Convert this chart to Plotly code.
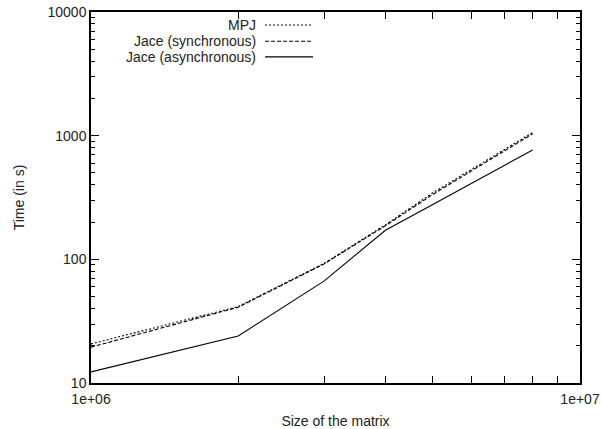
import plotly.graph_objects as go

sizes = [1e6, 2e6, 3e6, 4e6, 5e6, 8e6]
mpj = [20.7, 41.5, 93, 190, 345, 1060]
jace_sync = [19.5, 41, 92, 187, 335, 1035]
jace_async = [12.3, 24, 67, 172, 278, 765]

series_names = ["MPJ", "Jace (synchronous)", "Jace (asynchronous)"]
series_dash = ["2px,2px", "4px,2px", "solid"]

x_ticks = [1e6, 1e7]
x_tick_text = ["1e+06", "1e+07"]
y_ticks = [10, 100, 1000, 10000]
y_tick_text = ["10", "100", "1000", "10000"]

FONT = "Liberation Sans, Arial, Helvetica, sans-serif"
TXT = "#222"
FS = 14

fig = go.Figure()
for name, ys, dash in zip(series_names, [mpj, jace_sync, jace_async], series_dash):
    fig.add_trace(go.Scatter(x=sizes, y=ys, mode="lines", name=name,
                             line=dict(color="black", width=1.1, dash=dash),
                             showlegend=False))

# Manual gnuplot-style legend (text right-aligned, sample to the right)
legend_y = [0.965, 0.921, 0.879]
for name, dash, ly in zip(series_names, series_dash, legend_y):
    fig.add_annotation(x=0.3415, y=ly, xref="paper", yref="paper", text=name,
                       showarrow=False, xanchor="right", yanchor="middle",
                       font=dict(family=FONT, size=FS, color=TXT))
    fig.add_shape(type="line", xref="paper", yref="paper",
                  x0=0.356, x1=0.454, y0=ly, y1=ly,
                  line=dict(color="black", width=1.1, dash=dash))

axis_common = dict(
    type="log", showgrid=False, zeroline=False, showline=True,
    linecolor="black", linewidth=1.5, automargin=False,
    ticks="inside", tickcolor="black", tickwidth=1,
    tickfont=dict(family=FONT, size=FS, color=TXT),
)
x_minor = dict(ticks="inside", ticklen=7, tickcolor="black", tickwidth=1,
               dtick="D1", showgrid=False)
y_minor = dict(ticks="inside", ticklen=4, tickcolor="black", tickwidth=1,
               dtick="D1", showgrid=False)

fig.update_layout(
    xaxis=dict(**axis_common, range=[6, 7], tickvals=x_ticks, ticktext=x_tick_text,
               ticklen=7, minor=x_minor, ticklabelstandoff=2,
               title=dict(text="Size of the matrix", standoff=12,
                          font=dict(family=FONT, size=FS, color=TXT))),
    yaxis=dict(**axis_common, range=[1, 4], tickvals=y_ticks, ticktext=y_tick_text,
               ticklen=8, minor=y_minor,
               title=dict(text="Time (in s)", standoff=20,
                          font=dict(family=FONT, size=FS, color=TXT))),
    xaxis2=dict(**axis_common, range=[6, 7], tickvals=x_ticks, ticktext=x_tick_text,
                ticklen=7, minor=x_minor, overlaying="x", side="top",
                showticklabels=False),
    yaxis2=dict(**axis_common, range=[1, 4], tickvals=y_ticks, ticktext=y_tick_text,
                ticklen=8, minor=y_minor, overlaying="y", side="right",
                showticklabels=False),
    width=602, height=429,
    margin=dict(l=91, r=22, t=12, b=46),
    plot_bgcolor="white", paper_bgcolor="white",
    showlegend=False,
)
# invisible trace to anchor the mirror axes
fig.add_trace(go.Scatter(x=[sizes[0]], y=[jace_async[0]], xaxis="x2", yaxis="y2",
                         mode="markers", marker=dict(opacity=0), showlegend=False,
                         hoverinfo="skip"))

fig.write_html("out.html", config={"displayModeBar": False},
               post_script="document.body.style.margin='0';document.body.style.overflow='hidden';")
